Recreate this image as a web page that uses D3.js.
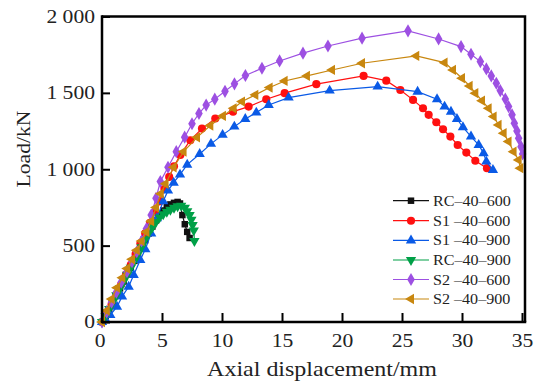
<!DOCTYPE html>
<html lang="en">
<head>
    <meta charset="UTF-8">
    <title>Load - axial displacement</title>
    <script src="https://d3js.org/d3.v7.min.js"></script>
    <style>
        body {
            margin: 0;
            padding: 0;
            background-color: #fff;
        }
        svg text {
            font-family: "Liberation Serif", "Times New Roman", serif;
            fill: #222;
        }
    </style>
</head>
<body>
    <svg id="chart" width="542" height="392"></svg>

    <script>
        // Series names (legend order)
        const seriesNames = ['RC\u201340\u2013600', 'S1 \u201340\u2013600', 'S1 \u201340\u2013900',
                             'RC\u201340\u2013900', 'S2 \u201340\u2013600', 'S2 \u201340\u2013900'];

        // RC-40-600
        const rc600X = [0, 0.3, 0.6, 0.9, 1.2, 1.5, 1.8, 2.1, 2.4, 2.7, 3.0, 3.3, 3.6, 3.9, 4.2, 4.5, 4.8,
                        5.1, 5.4, 5.7, 6.0, 6.3, 6.5, 6.7, 6.9, 7.1, 7.3];
        const rc600Y = [0, 40, 85, 130, 175, 220, 265, 310, 355, 400, 445, 490, 535, 580, 625, 665, 700,
                        730, 755, 770, 780, 786, 776, 700, 640, 590, 550];

        // S1-40-600
        const s1600X = [0, 0.4, 0.8, 1.2, 1.6, 2.0, 2.4, 2.8, 3.2, 3.6, 4.0, 4.4, 4.8, 5.2, 5.6, 6.0,
                        6.53, 7.36, 8.33, 9.44, 10.92, 12.22, 13.69, 15.22, 17.86, 21.8, 23.69, 24.86,
                        25.92, 26.75, 27.22, 27.86, 28.42, 29.03, 29.64, 30.36, 31.11, 32.08];
        const s1600Y = [0, 55, 115, 180, 245, 310, 375, 445, 515, 580, 650, 720, 790, 870, 950, 1020,
                        1094, 1190, 1266, 1332, 1377, 1410, 1458, 1498, 1557, 1611, 1580, 1519,
                        1454, 1399, 1356, 1308, 1262, 1214, 1159, 1109, 1056, 1007];

        // S1-40-900
        const s1900X = [0, 0.3, 0.69, 1.25, 1.67, 2.22, 2.64, 3.19, 3.61, 4.1, 4.58, 5.1, 5.5, 5.97, 6.5,
                        7.1, 8.14, 9.08, 10.05, 11.03, 11.94, 12.86, 13.89, 15.55, 18.97, 22.97, 26.3,
                        27.92, 28.55, 29.08, 29.58, 30.08, 30.75, 31.39, 31.8, 32.03, 32.58];
        const s1900Y = [0, 15, 46, 100, 166, 231, 308, 406, 476, 580, 679, 790, 860, 912, 965,
                        1030, 1100, 1166, 1225, 1279, 1329, 1371, 1421, 1469, 1515, 1541, 1508,
                        1458, 1410, 1377, 1329, 1275, 1214, 1159, 1105, 1050, 995];

        // RC-40-900
        const rc900X = [0, 0.3, 0.6, 0.9, 1.2, 1.5, 1.8, 2.1, 2.4, 2.7, 3.0, 3.3, 3.6, 3.9, 4.2, 4.5,
                        4.8, 5.1, 5.4, 5.7, 6.0, 6.3, 6.6, 6.9, 7.1, 7.3, 7.45, 7.55, 7.65, 7.7];
        const rc900Y = [0, 40, 85, 130, 175, 220, 265, 310, 355, 400, 445, 490, 540, 585, 620, 655,
                        685, 705, 722, 735, 748, 758, 762, 748, 725, 700, 670, 635, 600, 530];

        // S2-40-600
        const s2600X = [0, 0.4, 0.8, 1.2, 1.6, 2.08, 2.5, 2.9, 3.3, 3.7, 4.1, 4.5, 4.86, 5.5, 6.19, 6.89,
                        7.5, 8.08, 8.68, 9.4, 10.25, 11.04, 11.95, 13.33, 14.8, 16.75, 18.83, 21.67,
                        25.5, 28.05, 29.92, 30.75, 31.53, 32.03, 32.44, 32.86, 33.19, 33.61, 33.88,
                        34.17, 34.36, 34.58, 34.72, 34.92, 35.05];
        const s2600Y = [0, 65, 130, 195, 260, 329, 395, 460, 530, 610, 700, 810, 919, 1013, 1115, 1210,
                        1298, 1365, 1420, 1459, 1510, 1559, 1614, 1661, 1709, 1760, 1807, 1858,
                        1906, 1853, 1803, 1753, 1705, 1657, 1611, 1563, 1515, 1460, 1410,
                        1356, 1301, 1251, 1203, 1148, 1100];

        // S2-40-900
        const s2900X = [0, 0.4, 0.8, 1.25, 1.7, 2.1, 2.5, 2.9, 3.3, 3.7, 4.1, 4.5, 4.9, 5.3, 5.97, 6.8,
                        7.92, 9.03, 10.08, 10.97, 11.67, 12.78, 13.97, 15.22, 17.08, 19.17, 21.67,
                        26.19, 28.55, 29.25, 30.0, 30.64, 31.11, 31.67, 32.22, 32.64, 33.05, 33.47,
                        33.88, 34.3, 34.72, 34.86];
        const s2900Y = [0, 75, 150, 225, 290, 350, 410, 470, 530, 590, 660, 750, 840, 905, 1013, 1115,
                        1209, 1286, 1349, 1399, 1443, 1487, 1535, 1578, 1611, 1650, 1694,
                        1742, 1698, 1650, 1596, 1545, 1498, 1449, 1399, 1345, 1290, 1236,
                        1181, 1115, 1061, 1007];

        const xTicks = [0, 5, 10, 15, 20, 25, 30, 35];
        const yTicks = [0, 500, 1000, 1500, 2000];
        const yTickLabels = ['0', '500', '1 000', '1 500', '2 000'];

        const colors = ['#111111', '#ff1010', '#0a5ae6', '#00a047', '#9d50e2', '#c8870f'];
        const symbols = [
            { type: d3.symbolSquare, size: 42, rot: 0 },
            { type: d3.symbolCircle, size: 52, rot: 0 },
            { type: d3.symbolTriangle, size: 46, rot: 0 },
            { type: d3.symbolTriangle, size: 46, rot: 180 },
            { type: d3.symbolDiamond, size: 50, rot: 0 },
            { type: d3.symbolTriangle, size: 46, rot: -90 }
        ];

        const seriesX = [rc600X, s1600X, s1900X, rc900X, s2600X, s2900X];
        const seriesY = [rc600Y, s1600Y, s1900Y, rc900Y, s2600Y, s2900Y];
        const series = seriesNames.map((name, i) => ({
            name: name,
            color: colors[i],
            symbol: symbols[i],
            points: seriesX[i].map((x, j) => ({ x: x, y: seriesY[i][j] }))
        }));

        const plotLeft = 102, plotRight = 525, plotTop = 16.5, plotBottom = 322;
        const x = d3.scaleLinear().domain([0, 35]).range([plotLeft, 522]);
        const y = d3.scaleLinear().domain([0, 2000]).range([plotBottom, plotTop]);

        const svg = d3.select('#chart');

        // Curves
        const line = d3.line().x(d => x(d.x)).y(d => y(d.y));
        series.forEach(s => {
            const g = svg.append('g');
            g.append('path')
                .datum(s.points)
                .attr('d', line)
                .attr('fill', 'none')
                .attr('stroke', s.color)
                .attr('stroke-width', 1.2);
            g.selectAll('path.marker')
                .data(s.points)
                .enter()
                .append('path')
                .attr('class', 'marker')
                .attr('d', d3.symbol().type(s.symbol.type).size(s.symbol.size))
                .attr('transform', d => `translate(${x(d.x)},${y(d.y)}) rotate(${s.symbol.rot})`)
                .attr('fill', s.color);
        });

        // Frame (top and right borders)
        svg.append('path')
            .attr('d', `M${plotLeft},${plotTop} H${plotRight} V${plotBottom}`)
            .attr('fill', 'none')
            .attr('stroke', '#000')
            .attr('stroke-width', 2.5);

        // Axes with inward ticks
        const xAxis = svg.append('g')
            .attr('transform', `translate(0,${plotBottom})`)
            .call(d3.axisBottom(x).tickValues(xTicks).tickSize(-9).tickSizeOuter(0));
        xAxis.selectAll('text')
            .attr('y', 25)
            .attr('dy', 0)
            .attr('transform', 'scale(1.2,1)')
            .attr('x', d => (d === 0 ? -2 : 0))
            .style('font-size', '18px');

        const yAxis = svg.append('g')
            .attr('transform', `translate(${plotLeft},0)`)
            .call(d3.axisLeft(y).tickValues(yTicks).tickSize(-8).tickSizeOuter(0)
                .tickFormat((d, i) => yTickLabels[i]));
        yAxis.selectAll('text')
            .attr('x', 0)
            .attr('transform', 'translate(-7,0) scale(1.2,1)')
            .style('font-size', '18px');

        [xAxis, yAxis].forEach(a => {
            a.select('.domain').attr('stroke', '#000').attr('stroke-width', 2.5);
            a.selectAll('.tick line').attr('stroke', '#000').attr('stroke-width', 2);
        });
        xAxis.select('.domain').attr('d', `M${plotLeft - 1.25},0 H${plotRight + 1.25}`);
        yAxis.select('.domain').attr('d', `M0,${plotTop - 1.25} V${plotBottom}`);

        // Axis titles
        svg.append('text')
            .attr('transform', 'translate(322,376) scale(1.2,1)')
            .attr('text-anchor', 'middle')
            .style('font-size', '20px')
            .text('Axial displacement/mm');

        svg.append('text')
            .attr('transform', 'translate(30,149) rotate(-90) scale(1.2,1)')
            .attr('text-anchor', 'middle')
            .style('font-size', '18px')
            .text('Load/kN');

        // Legend
        const legendRows = [200.7, 220.7, 240.4, 260, 279.5, 299];
        const legend = svg.append('g');
        series.forEach((s, i) => {
            const row = legend.append('g').attr('transform', `translate(0,${legendRows[i]})`);
            row.append('line')
                .attr('x1', 393).attr('x2', 429)
                .attr('stroke', s.color)
                .attr('stroke-width', 1.2);
            row.append('path')
                .attr('d', d3.symbol().type(s.symbol.type).size(s.symbol.size))
                .attr('transform', `translate(411,0) rotate(${s.symbol.rot})`)
                .attr('fill', s.color);
            row.append('text')
                .attr('transform', 'translate(433,5) scale(1.15,1)')
                .style('font-size', '14px')
                .text(s.name);
        });
    </script>
</body>
</html>
